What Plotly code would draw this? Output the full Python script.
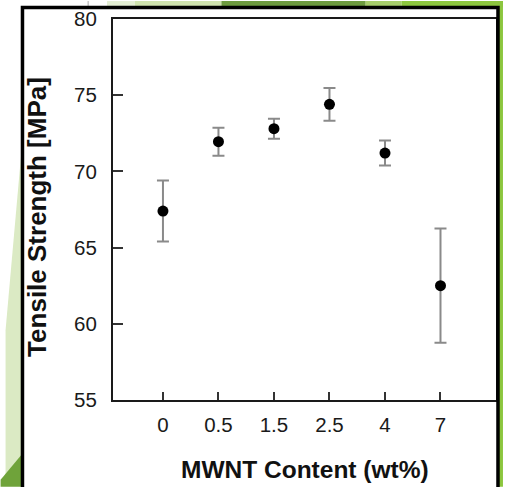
import plotly.graph_objects as go

categories = ["0", "0.5", "1.5", "2.5", "4", "7"]
strength = [67.4, 71.95, 72.8, 74.4, 71.2, 62.5]
err = [2.0, 0.92, 0.65, 1.08, 0.82, 3.75]
y_ticks = [55, 60, 65, 70, 75, 80]

W, H = 505, 487
L, R, T, B = 113, 7, 18, 87
PW, PH = W - L - R, H - T - B


def px(x):
    return (x - L) / PW


def py(y):
    return (H - B - y) / PH


font_family = "Liberation Sans, Arial, sans-serif"

fig = go.Figure()
fig.add_trace(go.Scatter(
    x=categories, y=strength, mode="markers",
    marker=dict(color="black", size=11),
    error_y=dict(type="data", array=err, visible=True, color="#8a8a8a",
                 thickness=2, width=6),
    showlegend=False,
))

shapes = []
# slide decoration (background outside the frame)
def rect(x0, y0, x1, y1, color):
    shapes.append(dict(type="rect", xref="paper", yref="paper",
                       x0=px(x0), x1=px(x1), y0=py(y1), y1=py(y0),
                       fillcolor=color, line=dict(width=0), layer="below"))

def poly(points, color):
    d = "M " + " L ".join(f"{px(a)},{py(b)}" for a, b in points) + " Z"
    shapes.append(dict(type="path", xref="paper", yref="paper", path=d,
                       fillcolor=color, line=dict(width=0), layer="below"))

rect(107, 0, 135, 6, "#e3eed3")
rect(135, 0, 222, 6, "#cfe3ae")
rect(222, 0, 367, 6, "#6d9b3f")
rect(367, 0, 403, 6, "#a6cd6b")
rect(403, 0, 505, 6, "#8cc63e")
rect(501, 0, 505, 487, "#8cc63e")
poly([(21, 150), (21, 470), (5, 480), (5, 330)], "#dbeac4")
poly([(21, 455), (21, 487), (0, 487), (0, 480)], "#6fa33a")
shapes.append(dict(type="line", xref="paper", yref="paper",
                   x0=px(88), x1=px(88), y0=py(0), y1=py(6),
                   line=dict(color="#aaaaaa", width=1)))
# outer black frame
shapes.append(dict(type="rect", xref="paper", yref="paper",
                   x0=px(22), x1=px(500), y0=py(492), y1=py(6.5),
                   line=dict(color="black", width=3.5), layer="above"))

fig.update_layout(
    width=W, height=H,
    margin=dict(l=L, r=R, t=T, b=B),
    paper_bgcolor="white", plot_bgcolor="white",
    font=dict(family=font_family, color="#1a1a1a"),
    shapes=shapes,
    xaxis=dict(
        type="category", range=[-0.9, 6.0],
        showline=True, linecolor="#1a1a1a", linewidth=2, mirror=True,
        ticks="inside", ticklen=8, tickwidth=1.5, tickcolor="#333",
        showgrid=False, zeroline=False,
        tickfont=dict(size=20.5, color="#1a1a1a"),
        ticklabelstandoff=5,
    ),
    yaxis=dict(
        range=[55, 80], tickvals=y_ticks,
        showline=True, linecolor="#1a1a1a", linewidth=2, mirror=True,
        ticks="inside", ticklen=10, tickwidth=1.5, tickcolor="#333",
        showgrid=False, zeroline=False,
        tickfont=dict(size=20.5, color="#1a1a1a"),
        ticklabelstandoff=10,
    ),
    annotations=[
        dict(text="<b>MWNT Content (wt%)</b>", xref="paper", yref="paper",
             x=px(306), y=py(470), xanchor="center", yanchor="middle",
             showarrow=False, font=dict(size=24.5, color="#111")),
        dict(text="<b>Tensile Strength [MPa]</b>", xref="paper", yref="paper",
             x=px(37), y=py(216), xanchor="center", yanchor="middle",
             textangle=-90, showarrow=False, font=dict(size=26, color="#111")),
    ],
)

fig.write_html("out.html")
